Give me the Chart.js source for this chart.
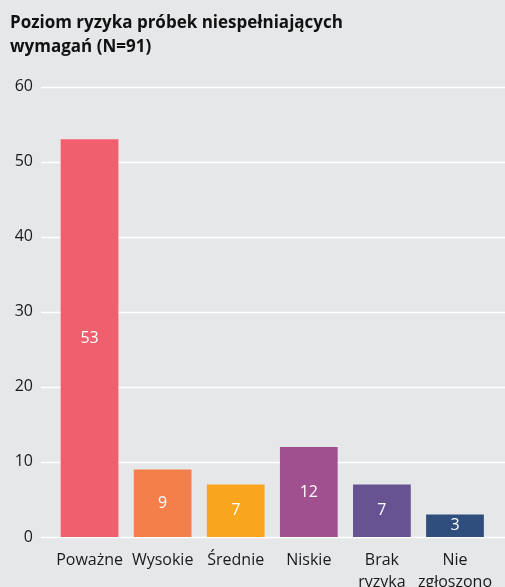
<!DOCTYPE html>
<html lang="pl">
<head>
  <meta charset="UTF-8" />
  <title>Poziom ryzyka próbek</title>
  <script src="https://cdn.jsdelivr.net/npm/chart.js"></script>
  <style>
    html, body { margin: 0; padding: 0; background: #e6e7e9; overflow: hidden; }
    .wrap { width: 505px; height: 587px; position: relative; }
  </style>
</head>
<body>
  <div class="wrap"><canvas id="riskChart"></canvas></div>

  <script>
    const categories = ['Poważne', 'Wysokie', 'Średnie', 'Niskie', ['Brak', 'ryzyka'], ['Nie', 'zgłoszono']];
    const counts = [53, 9, 7, 12, 7, 3];
    const barColors = ['#f05f6e', '#f47f4a', '#f9a61e', '#a0508f', '#675292', '#2f4e7e'];
    const yTicks = [0, 10, 20, 30, 40, 50, 60];

    const fontFamily = '"Open Sans", "Noto Sans", sans-serif';

    // white gridlines running from the label gutter to the right edge
    const gridPlugin = {
      id: 'fullGrid',
      beforeDatasetsDraw(chart) {
        const { ctx, scales: { y } } = chart;
        ctx.save();
        ctx.strokeStyle = '#ffffff';
        ctx.lineWidth = 1.5;
        yTicks.forEach(v => {
          const py = Math.round(y.getPixelForValue(v)) + 0.5;
          ctx.beginPath();
          ctx.moveTo(41, py);
          ctx.lineTo(chart.width, py);
          ctx.stroke();
        });
        ctx.restore();
      }
    };

    // value labels centred inside each bar
    const valuePlugin = {
      id: 'barValues',
      afterDatasetsDraw(chart) {
        const { ctx } = chart;
        const meta = chart.getDatasetMeta(0);
        ctx.save();
        ctx.fillStyle = '#ffffff';
        ctx.font = '16px ' + fontFamily;
        ctx.textAlign = 'center';
        ctx.textBaseline = 'middle';
        meta.data.forEach((bar, i) => {
          const mid = (bar.y + bar.base) / 2;
          ctx.fillText(String(counts[i]), bar.x, mid);
        });
        ctx.restore();
      }
    };

    new Chart(document.getElementById('riskChart'), {
      type: 'bar',
      data: {
        labels: categories,
        datasets: [{
          data: counts,
          backgroundColor: barColors,
          borderWidth: 0,
          barPercentage: 0.79,
          categoryPercentage: 1
        }]
      },
      options: {
        responsive: true,
        maintainAspectRatio: false,
        animation: false,
        layout: { padding: { left: 10, right: 12, top: 0, bottom: 0 } },
        plugins: {
          legend: { display: false },
          tooltip: { enabled: false },
          title: {
            display: true,
            text: ['Poziom ryzyka próbek niespełniających', 'wymagań (N=91)'],
            align: 'start',
            color: '#111111',
            font: { family: fontFamily, size: 17, weight: 'bold', lineHeight: 1.4 },
            padding: { top: 11, bottom: 28 }
          }
        },
        scales: {
          x: {
            grid: { display: false, drawTicks: false },
            border: { display: false },
            ticks: {
              color: '#1a1a1a',
              font: { family: fontFamily, size: 16, lineHeight: 1.4 },
              padding: 12,
              maxRotation: 0,
              autoSkip: false
            },
            afterFit(scale) { scale.height = 50; }
          },
          y: {
            min: 0,
            max: 60,
            grid: { display: false, drawTicks: false },
            border: { display: false },
            afterBuildTicks(scale) { scale.ticks = yTicks.map(v => ({ value: v })); },
            ticks: {
              color: '#1a1a1a',
              font: { family: fontFamily, size: 16 },
              padding: 20
            },
            afterFit(scale) { scale.width = 43; }
          }
        }
      },
      plugins: [gridPlugin, valuePlugin]
    });
  </script>
</body>
</html>
